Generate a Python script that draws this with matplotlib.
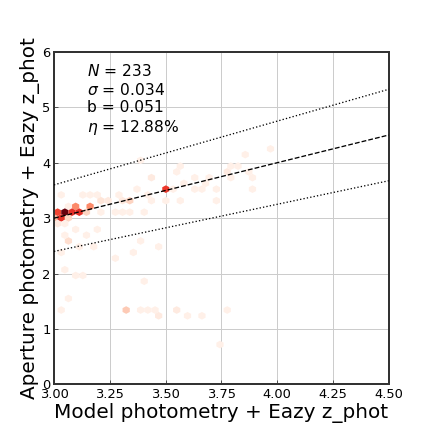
import numpy as np
import matplotlib
matplotlib.use("Agg")
import matplotlib.pyplot as plt

# hexbin input: positions (model z, aperture z) and number of galaxies there
z_model = [3.048, 3.016, 3.081, 3.113, 3.032, 3.000, 3.162, 3.097, 3.065, 3.145,
           3.50, 3.33, 3.33, 3.30, 3.22,
           # upper scatter
           3.03, 3.06, 3.14, 3.17, 3.20, 3.24, 3.29, 3.34, 3.36, 3.44, 3.42, 3.43,
           3.49, 3.50, 3.39, 3.35, 3.30, 3.26, 3.22, 3.38,
           3.56, 3.55, 3.63, 3.66, 3.73, 3.73, 3.79, 3.79, 3.82, 3.86, 3.89, 3.56,
           3.53, 3.62, 3.69, 3.78, 3.58, 3.69, 3.44, 3.97, 3.87, 3.89, 3.77,
           # below the line
           3.06, 3.035, 3.05, 3.10, 3.13, 3.175, 3.115, 3.27, 3.35, 3.385, 3.47,
           3.40, 3.19, 3.15, 3.10, 3.04, 3.05, 3.00,
           # catastrophic low-z
           3.06, 3.035, 3.33, 3.47, 3.40, 3.42, 3.45, 3.55, 3.60, 3.66, 3.77, 3.46, 3.74]
z_aper = [3.107, 3.107, 3.107, 3.107, 3.004, 3.004, 3.211, 3.211, 3.004, 3.107,
          3.50, 3.36, 1.35, 3.30, 3.27,
          3.45, 3.27, 3.45, 3.45, 3.38, 3.33, 3.42, 3.29, 3.50, 3.74, 3.45, 3.33,
          3.33, 3.54, 3.14, 3.14, 3.14, 3.10, 3.14, 4.05,
          3.92, 3.83, 3.54, 3.54, 3.54, 3.33, 3.74, 3.92, 3.92, 4.14, 3.54, 3.33,
          3.54, 3.74, 3.72, 3.87, 3.65, 3.60, 3.69, 4.25, 3.83, 3.74, 3.83,
          2.60, 2.39, 2.10, 2.00, 2.00, 2.50, 2.50, 2.30, 2.38, 2.60, 2.50,
          1.90, 2.82, 2.70, 2.82, 2.73, 2.87, 2.90,
          1.57, 1.37, 1.35, 1.30, 1.30, 1.30, 1.30, 1.39, 1.28, 1.28, 1.39, 1.20, 0.72]
n_gal = [30, 18, 20, 20, 20, 8, 12, 12, 5, 5,
         18, 3, 4, 2, 3,
         1, 1, 1, 1, 1, 2, 1, 2, 1, 1, 1, 1,
         1, 1, 1, 1, 1, 1, 1, 1,
         1, 1, 1, 1, 1, 1, 1, 1, 1, 1, 1, 1,
         1, 1, 1, 1, 1, 1, 1, 1, 1, 1, 1,
         4, 1, 1, 1, 1, 1, 1, 1, 1, 1, 1,
         1, 1, 1, 1, 1, 1, 2,
         1, 1, 2, 1, 1, 1, 1, 2, 1, 1, 1, 1, 1]

stats_txt = "$N$ = 233\n$\\sigma$ = 0.034\nb = 0.051\n$\\eta$ = 12.88%"

fig, ax = plt.subplots(figsize=(6, 6), dpi=72)

ax.grid(True, color='#cccccc', lw=1, zorder=0)
ax.set_axisbelow(True)
ax.hexbin(z_model, z_aper, C=n_gal, reduce_C_function=np.sum, gridsize=30,
          cmap='Reds', vmin=0, linewidths=0, zorder=2)

x = np.array([3.0, 4.5])
ax.plot(x, x, 'k--', lw=1.3, zorder=3)
ax.plot(x, (1 + x) * 1.15 - 1, 'k:', lw=1.3, zorder=3)
ax.plot(x, (1 + x) * 0.85 - 1, 'k:', lw=1.3, zorder=3)

ax.text(0.1, 0.965, stats_txt, transform=ax.transAxes, va='top', ha='left',
        fontsize=15.5)

ax.set_xlim(3.0, 4.5)
ax.set_ylim(0, 6)
ax.set_xticks([3.0, 3.25, 3.5, 3.75, 4.0, 4.25, 4.5])
ax.set_xlabel("Model photometry + Eazy z_phot", fontsize=20, labelpad=2)
ax.set_ylabel("Aperture photometry + Eazy z_phot", fontsize=20, labelpad=2)
ax.tick_params(direction='in', length=4, labelsize=13, color='#333333')
for s in ax.spines.values():
    s.set_color('#333333')
    s.set_linewidth(2)

plt.savefig("out.png", dpi=72)
